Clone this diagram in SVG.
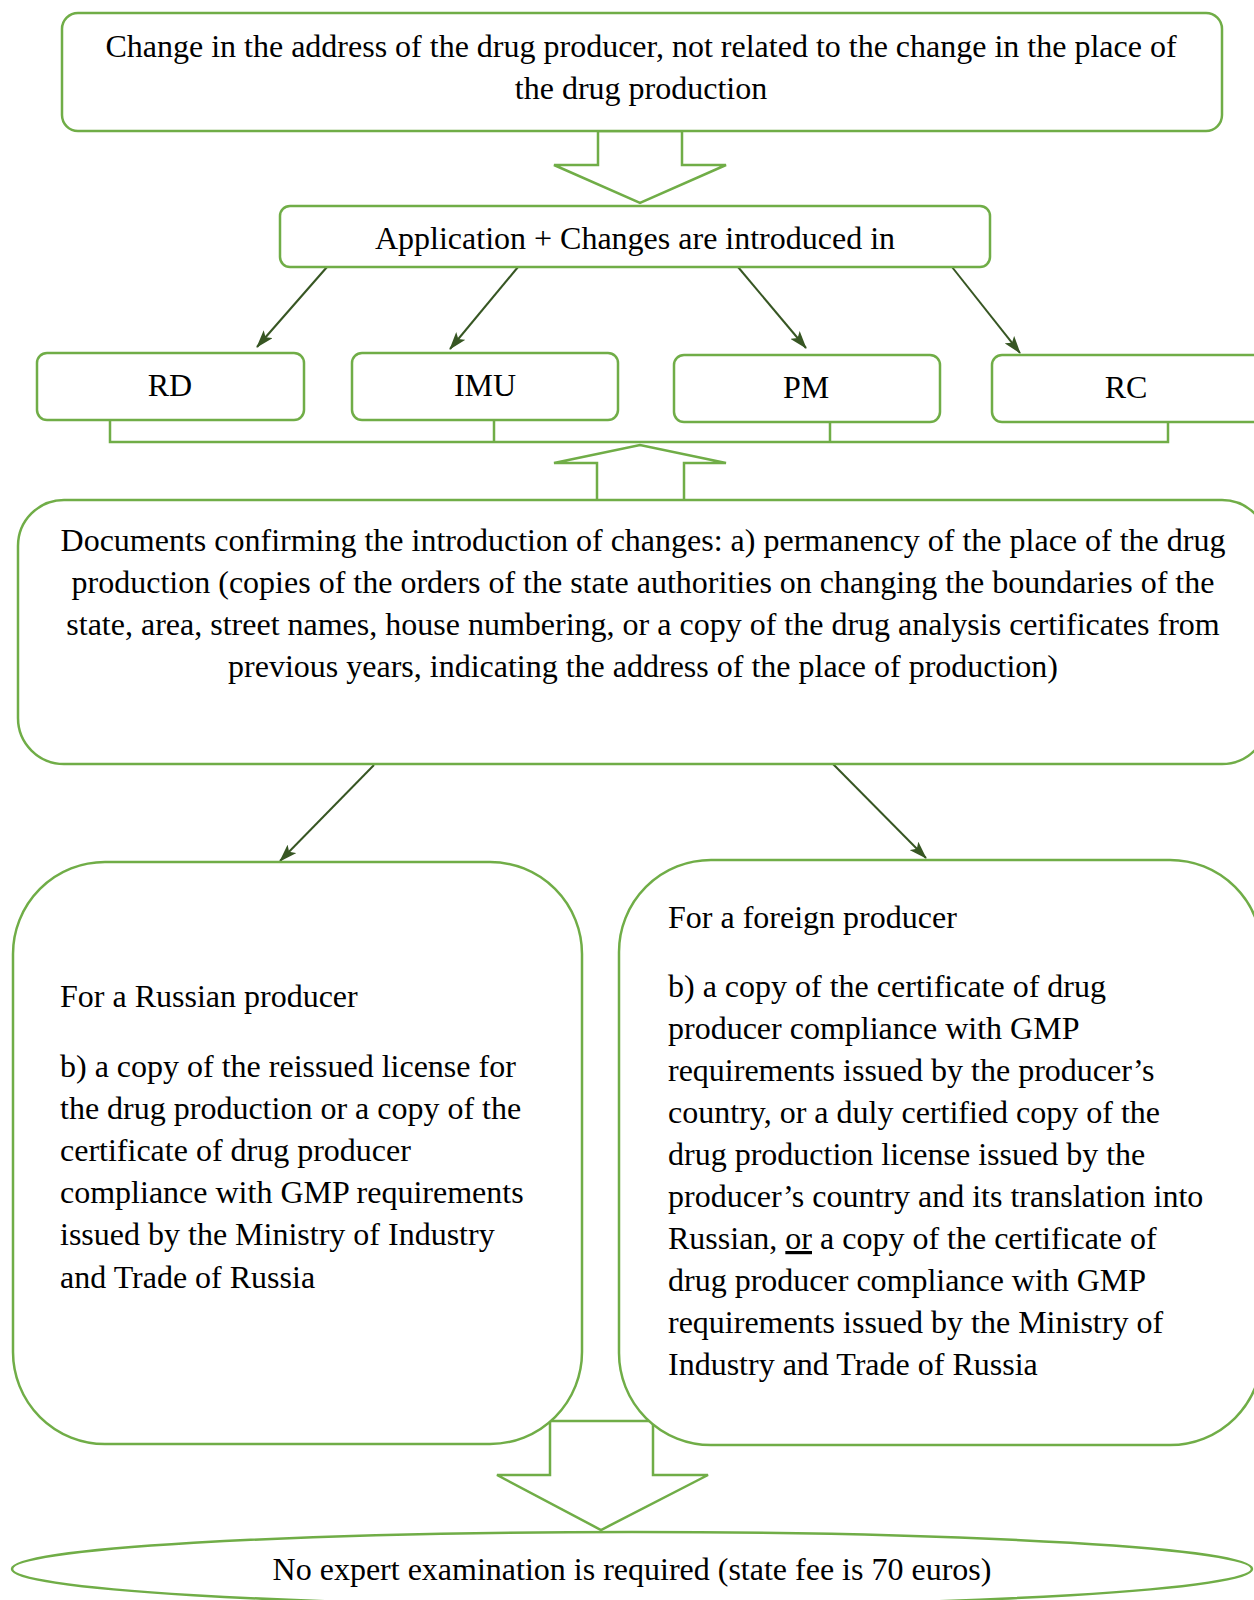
<svg xmlns="http://www.w3.org/2000/svg" width="1254" height="1600" viewBox="0 0 1254 1600">
<defs>
<style>
.box{fill:#fff;stroke:#70AD47;stroke-width:2.5}
.blk{fill:#fff;stroke:#70AD47;stroke-width:2.5;stroke-linejoin:miter}
.brk{fill:none;stroke:#70AD47;stroke-width:2.5}
.ln{stroke:#375623;stroke-width:2;fill:none;marker-end:url(#ah)}
text{font-family:"Liberation Serif","Times New Roman",serif;font-size:32px;fill:#000}
.c{text-anchor:middle}
</style>
<marker id="ah" viewBox="0 0 18 12" refX="17" refY="6" markerWidth="18" markerHeight="12" markerUnits="userSpaceOnUse" orient="auto">
<path d="M0,0 L18,6 L0,12 L4,6 z" fill="#375623"/>
</marker>
</defs>
<rect width="1254" height="1600" fill="#fff"/>
<g id="connectors">
<polygon class="blk" points="598,131 682,131 682,165 726,165 640,203 554,165 598,165"/>
<line class="ln" x1="327" y1="267" x2="257" y2="347"/>
<line class="ln" x1="518" y1="267" x2="450" y2="349"/>
<line class="ln" x1="738" y1="267" x2="806" y2="348"/>
<line class="ln" x1="952" y1="267" x2="1020" y2="353"/>
<path class="brk" d="M110,420 V442 H1168 V422 M494,420 V442 M830,422 V442"/>
<polygon class="blk" points="597,502 597,463 554,463 640,445 726,463 684,463 684,502"/>
<line class="ln" x1="374" y1="765" x2="280" y2="861"/>
<line class="ln" x1="832" y1="763" x2="926" y2="858"/>
<polygon class="blk" points="550,1421 653,1421 653,1475 708,1475 601,1530 497,1475 550,1475"/>
</g>
<g id="n-top">
<rect class="box" x="62" y="13" width="1160" height="118" rx="16"/>
<text class="c" x="641" y="57">Change in the address of the drug producer, not related to the change in the place of</text>
<text class="c" x="641" y="99">the drug production</text>
</g>
<g id="n-app">
<rect class="box" x="280" y="206" width="710" height="61" rx="10"/>
<text class="c" x="635" y="249">Application + Changes are introduced in</text>
</g>
<g id="n-rd">
<rect class="box" x="37" y="353" width="267" height="67" rx="10"/>
<text class="c" x="170" y="396">RD</text>
</g>
<g id="n-imu">
<rect class="box" x="352" y="353" width="266" height="67" rx="10"/>
<text class="c" x="485" y="396">IMU</text>
</g>
<g id="n-pm">
<rect class="box" x="674" y="355" width="266" height="67" rx="10"/>
<text class="c" x="806" y="398">PM</text>
</g>
<g id="n-rc">
<rect class="box" x="992" y="355" width="272" height="67" rx="10"/>
<text class="c" x="1126" y="398">RC</text>
</g>
<g id="n-docs">
<rect class="box" x="18" y="500" width="1250" height="264" rx="46"/>
<text class="c" x="643" y="551">Documents confirming the introduction of changes: a) permanency of the place of the drug</text>
<text class="c" x="643" y="593">production (copies of the orders of the state authorities on changing the boundaries of the</text>
<text class="c" x="643" y="635">state, area, street names, house numbering, or a copy of the drug analysis certificates from</text>
<text class="c" x="643" y="677">previous years, indicating the address of the place of production)</text>
</g>
<g id="n-russian">
<rect class="box" x="13" y="862" width="569" height="582" rx="92"/>
<text x="60" y="1007">For a Russian producer</text>
<text x="60" y="1077">b) a copy of the reissued license for</text>
<text x="60" y="1119">the drug production or a copy of the</text>
<text x="60" y="1161">certificate of drug producer</text>
<text x="60" y="1203">compliance with GMP requirements</text>
<text x="60" y="1245">issued by the Ministry of Industry</text>
<text x="60" y="1288">and Trade of Russia</text>
</g>
<g id="n-foreign">
<rect class="box" x="619" y="860" width="643" height="585" rx="92"/>
<text x="668" y="928">For a foreign producer</text>
<text x="668" y="997">b) a copy of the certificate of drug</text>
<text x="668" y="1039">producer compliance with GMP</text>
<text x="668" y="1081">requirements issued by the producer’s</text>
<text x="668" y="1123">country, or a duly certified copy of the</text>
<text x="668" y="1165">drug production license issued by the</text>
<text x="668" y="1207">producer’s country and its translation into</text>
<text x="668" y="1249">Russian, <tspan text-decoration="underline">or</tspan> a copy of the certificate of</text>
<text x="668" y="1291">drug producer compliance with GMP</text>
<text x="668" y="1333">requirements issued by the Ministry of</text>
<text x="668" y="1375">Industry and Trade of Russia</text>
</g>
<g id="n-fee">
<ellipse class="box" cx="632" cy="1569" rx="620" ry="37"/>
<text class="c" x="632" y="1580">No expert examination is required (state fee is 70 euros)</text>
</g>
</svg>
